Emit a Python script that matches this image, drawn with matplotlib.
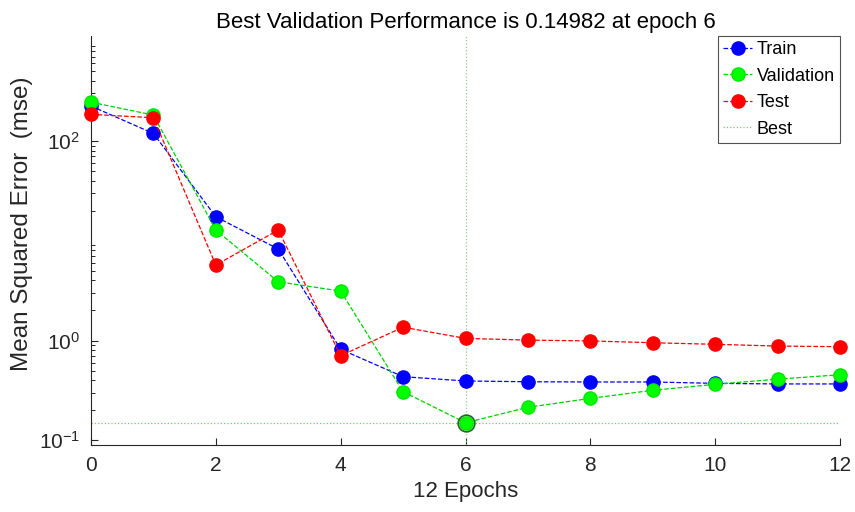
import matplotlib
matplotlib.use('Agg')
import matplotlib.pyplot as plt
from matplotlib.ticker import LogLocator, NullFormatter

plt.rcParams['font.family'] = ['Liberation Sans', 'DejaVu Sans']
plt.rcParams['mathtext.fontset'] = 'custom'
plt.rcParams['mathtext.rm'] = 'Liberation Sans'
plt.rcParams['mathtext.it'] = 'Liberation Sans'

# Dados
epocas = [0, 1, 2, 3, 4, 5, 6, 7, 8, 9, 10, 11, 12]
treino = [224, 119, 17.4, 8.27, 0.816, 0.434, 0.393, 0.386, 0.384, 0.384, 0.372, 0.367, 0.367]
validacao = [245, 182, 12.8, 3.88, 3.13, 0.307, 0.14982, 0.214, 0.263, 0.317, 0.364, 0.41, 0.454]
teste = [185, 171, 5.71, 12.8, 0.705, 1.36, 1.05, 1.01, 0.99, 0.95, 0.916, 0.88, 0.867]
melhor_epoca = 6
melhor_valor = 0.14982

fig = plt.figure(figsize=(8.55, 5.12), dpi=100)
ax = fig.add_axes([0.1064, 0.1309, 0.8761, 0.7988])

ax.plot(epocas, treino, '--o', color='#0000ff', lw=0.9, ms=9.5, label='Train', clip_on=False, zorder=3)
ax.plot(epocas, validacao, '--o', color='#00d000', mfc='#00ff00', mec='#00e600', lw=0.9, ms=9.5,
        label='Validation', clip_on=False, zorder=3)
ax.plot(epocas, teste, '--o', color='#ff0000', lw=0.9, ms=9.5, label='Test', clip_on=False, zorder=3)
ax.plot([epocas[0], epocas[-1]], [melhor_valor, melhor_valor], ':', color='#70cc70', lw=0.9, label='Best')
ax.plot([melhor_epoca, melhor_epoca], [0.0897, 1129], ':', color='#90cc90', lw=0.9)
ax.plot([melhor_epoca], [melhor_valor], 'o', mfc='none', mec='#1a6b1a', ms=12, mew=1.2, zorder=4)

ax.set_yscale('log')
ax.set_xlim(0, 12)
ax.set_ylim(0.0897, 1129)
ax.set_xticks([0, 2, 4, 6, 8, 10, 12])
ax.yaxis.set_minor_locator(LogLocator(base=10, subs=range(2, 10), numticks=10))
ax.yaxis.set_minor_formatter(NullFormatter())
ax.set_yticks([0.1, 1, 100])
ax.set_yticklabels([r'$10^{-1}$', r'$10^{0}$', r'$10^{2}$'])
ax.tick_params(direction='in', labelsize=15, length=5, colors='#262626', pad=8)
ax.tick_params(which='minor', direction='in', length=3)

for s in ['top', 'right']:
    ax.spines[s].set_visible(False)
for s in ['left', 'bottom']:
    ax.spines[s].set_color('#262626')

ax.set_title('Best Validation Performance is 0.14982 at epoch 6', fontsize=16, pad=6)
ax.set_xlabel('12 Epochs', fontsize=16, color='#262626', labelpad=4)
ax.set_ylabel('Mean Squared Error  (mse)', fontsize=17.5, color='#262626', labelpad=6)
ax.yaxis.set_label_coords(-0.078, 0.54)

leg = ax.legend(loc='upper right', fontsize=13, frameon=True, fancybox=False,
                handlelength=1.6, handletextpad=0.25, borderpad=0.3, labelspacing=0.52,
                borderaxespad=0.0, bbox_to_anchor=(1.0, 1.0))
leg.get_frame().set_edgecolor('#262626')
leg.get_frame().set_linewidth(0.8)

plt.savefig('out.png')
